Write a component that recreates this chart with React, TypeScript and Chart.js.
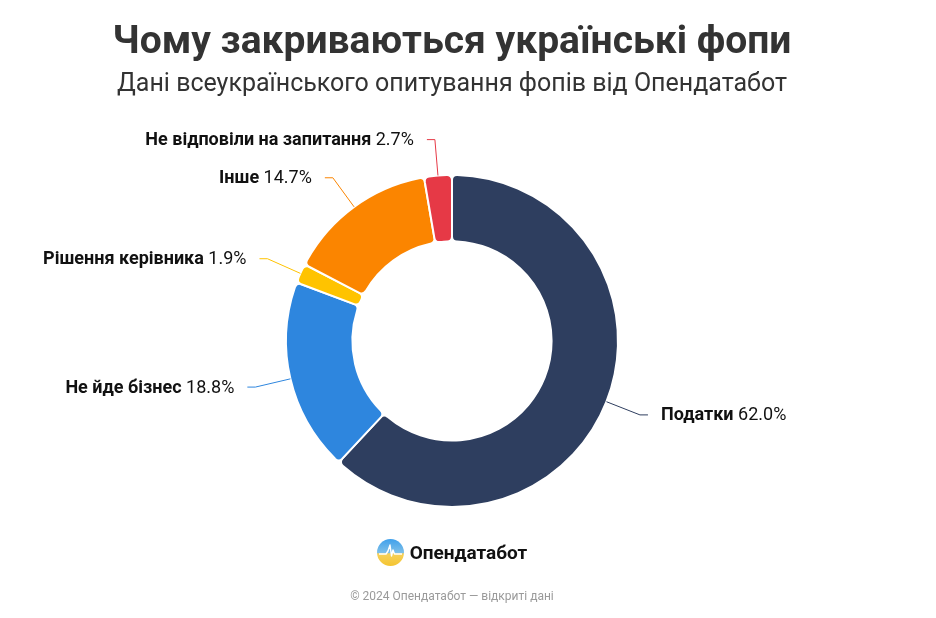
import React, { useEffect, useRef } from 'react';
import { Chart, registerables } from 'chart.js';

Chart.register(...registerables);

const categories = ['Податки', 'Не йде бізнес', 'Рішення керівника', 'Інше', 'Не відповіли на запитання'];
const values = [62.0, 18.8, 1.9, 14.7, 2.7];
const colors = ['#2E3E5F', '#2E86DE', '#FFC300', '#FB8500', '#E63946'];

const titleText = 'Чому закриваються українські фопи';
const subtitleText = 'Дані всеукраїнського опитування фопів від Опендатабот';
const brandText = 'Опендатабот';
const footerText = '© 2024 Опендатабот — відкриті дані';

const FONT = 'Roboto, "Noto Sans", sans-serif';

const sliceLabels = {
  id: 'sliceLabels',
  afterDatasetsDraw(chart: any) {
    const ctx = chart.ctx;
    const meta = chart.getDatasetMeta(0);
    meta.data.forEach((arc: any, i: number) => {
      const { x, y, startAngle, endAngle, outerRadius } = arc.getProps(
        ['x', 'y', 'startAngle', 'endAngle', 'outerRadius'],
        true
      );
      const mid = (startAngle + endAngle) / 2;
      const c = Math.cos(mid);
      const s = Math.sin(mid);
      const x0 = x + outerRadius * c;
      const y0 = y + outerRadius * s;
      const x1 = x + (outerRadius + 36) * c;
      const y1 = y + (outerRadius + 36) * s;
      const dir = c >= 0 ? 1 : -1;
      const x2 = x1 + dir * 8;
      ctx.save();
      ctx.strokeStyle = colors[i];
      ctx.lineWidth = 1;
      ctx.beginPath();
      ctx.moveTo(x0, y0);
      ctx.lineTo(x1, y1);
      ctx.lineTo(x2, y1);
      ctx.stroke();

      const name = categories[i] + ' ';
      const val = values[i].toFixed(1) + '%';
      const boldFont = `bold 18px ${FONT}`;
      const regFont = `18px ${FONT}`;
      ctx.font = boldFont;
      const wn = ctx.measureText(name).width;
      ctx.font = regFont;
      const wv = ctx.measureText(val).width;
      const tx = dir > 0 ? x2 + 13 : x2 - 13 - wn - wv;
      ctx.textBaseline = 'middle';
      ctx.textAlign = 'left';
      ctx.fillStyle = '#111';
      ctx.font = boldFont;
      ctx.fillText(name, tx, y1 + 1);
      ctx.font = regFont;
      ctx.fillText(val, tx + wn, y1 + 1);
      ctx.restore();
    });
  },
};

export default function App() {
  const ref = useRef<HTMLCanvasElement | null>(null);

  useEffect(() => {
    if (!ref.current) return;
    const chart = new Chart(ref.current, {
      type: 'doughnut',
      data: {
        labels: categories,
        datasets: [
          {
            data: values,
            backgroundColor: colors,
            borderColor: '#ffffff',
            borderWidth: 2,
            borderRadius: 5,
            radius: 166,
            cutout: '60%',
          } as any,
        ],
      },
      options: {
        responsive: false,
        animation: false,
        devicePixelRatio: 1,
        layout: { padding: { top: 0, bottom: 46, left: 0, right: 0 } },
        plugins: {
          legend: { display: false },
          tooltip: { enabled: false },
          title: {
            display: true,
            text: titleText,
            color: '#333333',
            font: { family: FONT, size: 39, weight: 'bold', lineHeight: 1.2 },
            padding: { top: 20, bottom: 0 },
          },
          subtitle: {
            display: true,
            text: subtitleText,
            color: '#333333',
            font: { family: FONT, size: 25, weight: 'normal', lineHeight: 1.2 },
            padding: { top: 3, bottom: 10 },
          },
        },
      },
      plugins: [sliceLabels],
    });
    return () => chart.destroy();
  }, []);

  return (
    <div
      style={{
        position: 'absolute',
        left: 0,
        top: 0,
        width: 936,
        height: 618,
        background: '#ffffff',
        overflow: 'hidden',
      }}
    >
      <canvas ref={ref} width={904} height={618} style={{ position: 'absolute', left: 0, top: 0, width: 904, height: 618 }} />
      <div
        style={{
          position: 'absolute',
          left: 0,
          width: 904,
          top: 538,
          height: 28,
          display: 'flex',
          alignItems: 'center',
          justifyContent: 'center',
          gap: 6,
        }}
      >
        <svg width={27} height={27} viewBox="0 0 27 27">
          <defs>
            <linearGradient id="lg" x1="0" y1="0" x2="0" y2="1">
              <stop offset="0" stopColor="#3FA0EC" />
              <stop offset="0.5" stopColor="#7DBFE8" />
              <stop offset="0.55" stopColor="#F6D15A" />
              <stop offset="1" stopColor="#F4C430" />
            </linearGradient>
          </defs>
          <circle cx={13.5} cy={13.5} r={13.5} fill="url(#lg)" />
          <polyline
            points="2,15 9,15 11,12 13,6 14.5,17 16,11 17.5,15 25,15"
            fill="none"
            stroke="#ffffff"
            strokeWidth={1.4}
            strokeLinejoin="round"
          />
        </svg>
        <span style={{ fontFamily: FONT, fontWeight: 700, fontSize: 19, color: '#111' }}>{brandText}</span>
      </div>
      <div
        style={{
          position: 'absolute',
          left: 0,
          width: 904,
          top: 589,
          textAlign: 'center',
          fontFamily: FONT,
          fontSize: 12,
          color: '#9a9a9a',
        }}
      >
        {footerText}
      </div>
    </div>
  );
}
